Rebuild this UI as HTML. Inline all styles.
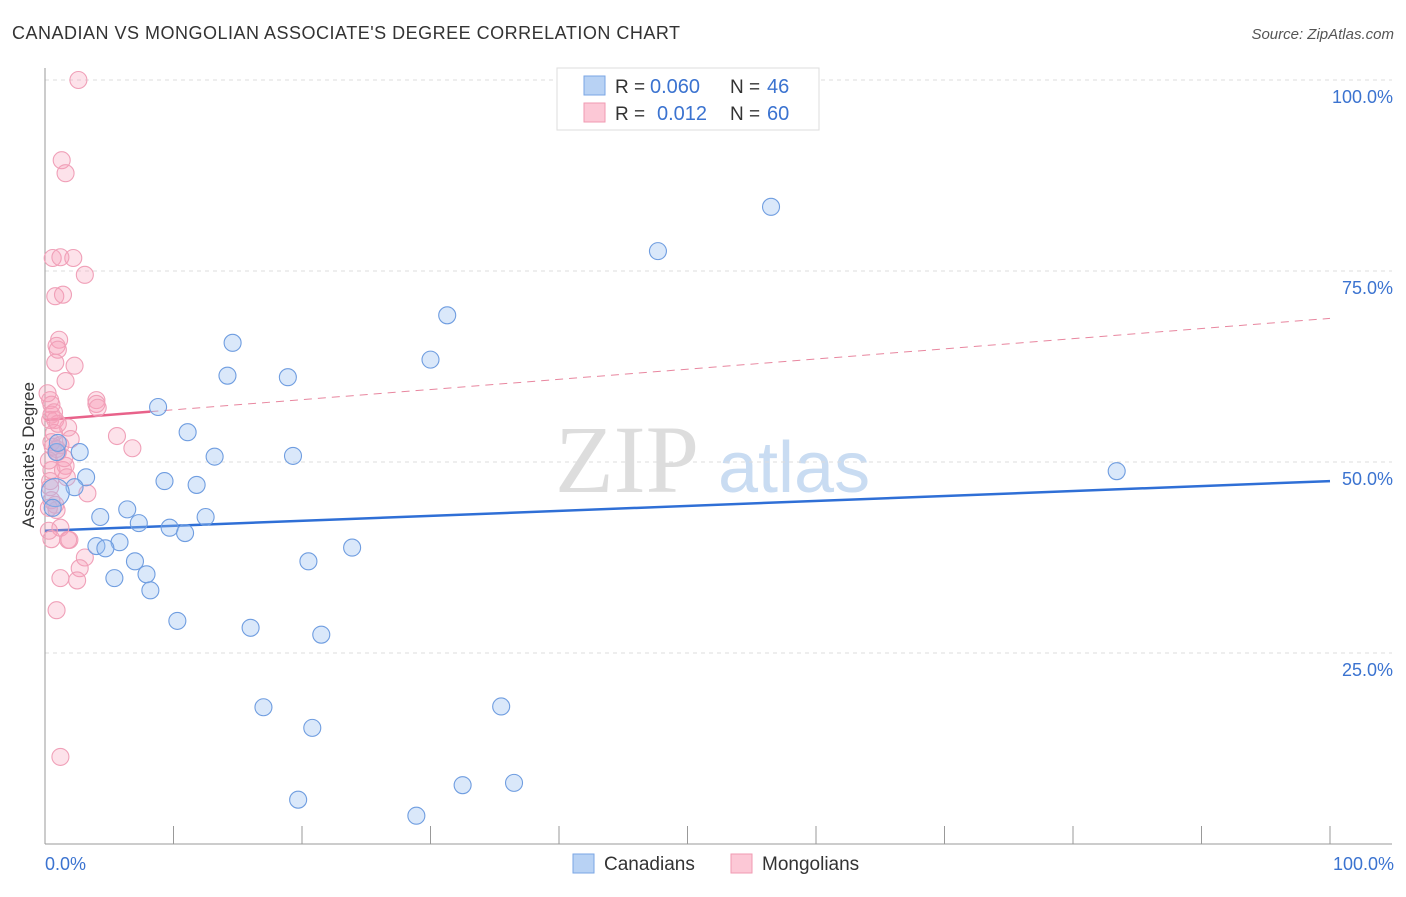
<!DOCTYPE html>
<html><head><meta charset="utf-8"><style>
body{margin:0;background:#fff;font-family:"Liberation Sans",sans-serif}
</style></head><body>
<svg width="1406" height="892" xmlns="http://www.w3.org/2000/svg" font-family="Liberation Sans, sans-serif">
<text x="12" y="39" font-size="18" fill="#333" textLength="668">CANADIAN VS MONGOLIAN ASSOCIATE'S DEGREE CORRELATION CHART</text>
<text x="1394" y="39" font-size="15" fill="#555" text-anchor="end" font-style="italic">Source: ZipAtlas.com</text>
<text x="555" y="492" font-size="96" fill="#ddd" font-family="Liberation Serif, serif">ZIP</text>
<text x="718" y="492" font-size="72" fill="#c9dcf2">atlas</text>
<g id="grid"></g>
<g id="axes"></g>
<text transform="translate(34,455) rotate(-90)" font-size="17" fill="#333" text-anchor="middle">Associate's Degree</text>
<text x="45" y="870" font-size="18" fill="#3b73d0">0.0%</text>
<text x="1394" y="870" font-size="18" fill="#3b73d0" text-anchor="end">100.0%</text>
<g id="trend"></g>
<g id="pts"></g>
<g>
<rect x="557" y="68" width="262" height="62" fill="#fff" stroke="#ddd"/>
<rect x="584" y="76" width="21" height="19" fill="#b8d2f4" stroke="#7aa6e4"/>
<rect x="584" y="103" width="21" height="19" fill="#fcc8d6" stroke="#f09ab2"/>
<text x="615" y="93" font-size="19" fill="#333">R =</text>
<text x="650" y="93" font-size="20" fill="#3b73d0">0.060</text>
<text x="730" y="93" font-size="19" fill="#333">N =</text>
<text x="767" y="93" font-size="20" fill="#3b73d0">46</text>
<text x="615" y="120" font-size="19" fill="#333">R =</text>
<text x="657" y="120" font-size="20" fill="#3b73d0">0.012</text>
<text x="730" y="120" font-size="19" fill="#333">N =</text>
<text x="767" y="120" font-size="20" fill="#3b73d0">60</text>
</g>
<g>
<rect x="573" y="854" width="21" height="19" fill="#b8d2f4" stroke="#7aa6e4"/>
<text x="604" y="870" font-size="19" fill="#333">Canadians</text>
<rect x="731" y="854" width="21" height="19" fill="#fcc8d6" stroke="#f09ab2"/>
<text x="762" y="870" font-size="19" fill="#333">Mongolians</text>
</g>
</svg>
<script>
const yTicks=[25,50,75,100];
const yTickLabels=["25.0%","50.0%","75.0%","100.0%"];
const xTicks=[10,20,30,40,50,60,70,80,90,100];
const blueX=[56.5,47.7,31.3,14.6,30.0,14.2,18.9,8.8,11.1,13.2,19.3,2.7,83.4,3.2,9.3,11.8,2.3,4.3,6.4,7.3,12.5,9.7,10.9,4.0,5.8,4.7,23.9,20.5,7.0,5.4,7.9,8.2,10.3,16.0,21.5,17.0,35.5,20.8,32.5,36.5,19.7,28.9,0.9,0.8,0.6,1.0];
const blueY=[83.4,77.6,69.2,65.6,63.4,61.3,61.1,57.2,53.9,50.7,50.8,51.3,48.8,48.0,47.5,47.0,46.7,42.8,43.8,42.0,42.8,41.4,40.7,39.0,39.5,38.7,38.8,37.0,37.0,34.8,35.3,33.2,29.2,28.3,27.4,17.9,18.0,15.2,7.7,8.0,5.8,3.7,51.3,46.0,44.0,52.5];
const pinkX=[2.6,1.3,1.6,0.6,2.2,1.2,3.1,0.8,1.4,1.1,0.9,1.0,0.8,1.6,2.3,4.0,4.0,4.1,0.4,0.5,0.5,0.4,0.8,1.8,0.5,1.2,1.0,0.9,1.6,0.5,1.4,5.6,6.8,0.4,0.5,0.8,0.9,1.2,1.8,1.9,3.3,0.5,3.1,2.7,2.5,1.2,0.9,1.2,0.3,0.7,0.2,1.0,1.7,0.3,0.6,0.4,1.5,0.7,2.0,0.3];
const pinkY=[100.0,89.5,87.8,76.7,76.7,76.8,74.5,71.7,71.9,66.0,65.2,64.7,63.0,60.6,62.6,58.1,57.6,57.1,58.1,57.5,56.2,55.5,55.5,54.5,52.6,52.2,51.3,51.7,49.5,48.95,48.95,53.4,51.8,46.7,45.0,44.4,43.7,41.4,39.8,39.8,45.9,39.9,37.5,36.1,34.5,34.8,30.6,11.4,50.2,53.8,59.0,55.0,48.0,44.0,52.0,47.5,50.5,56.5,53.0,41.0];
const blueTrend=[41.0,47.5];
const pinkTrend=[55.5,68.8];
const X=v=>45+v*12.85, Y=v=>844-v*7.64;
const NS="http://www.w3.org/2000/svg";
function mk(t,a,p){const e=document.createElementNS(NS,t);for(const k in a)e.setAttribute(k,a[k]);p.appendChild(e);return e;}
const grid=document.getElementById('grid'),axes=document.getElementById('axes');
yTicks.forEach((t,i)=>{
 const l=mk('line',{x1:45,x2:1392,y1:Y(t),y2:Y(t),stroke:'#ddd','stroke-dasharray':'4,4'},grid);
 
 
 const tx=mk('text',{x:1393,y:Y(t)+23,'font-size':18,fill:'#3b73d0','text-anchor':'end'},grid);
 tx.textContent=yTickLabels[i];
 
 
});
let a=mk('line',{x1:45,x2:45,y1:68,y2:844,stroke:'#999'},axes);


a=mk('line',{x1:45,x2:1392,y1:844,y2:844,stroke:'#999'},axes);


xTicks.forEach(t=>{const l=mk('line',{x1:X(t),x2:X(t),y1:826,y2:844,stroke:'#999'},axes);
 
 });
const tr=document.getElementById('trend');
let l=mk('line',{x1:X(0),y1:Y(blueTrend[0]),x2:X(100),y2:Y(blueTrend[1]),stroke:'#2f6fd6','stroke-width':2.5},tr);


const pv=x=>pinkTrend[0]+(pinkTrend[1]-pinkTrend[0])*x/100;
l=mk('line',{x1:X(0),y1:Y(pv(0)),x2:X(8.2),y2:Y(pv(8.2)),stroke:'#e8628a','stroke-width':2.5},tr);


l=mk('line',{x1:X(8.2),y1:Y(pv(8.2)),x2:X(100),y2:Y(pv(100)),stroke:'#e8869f','stroke-width':1,'stroke-dasharray':'8,6'},tr);


const pts=document.getElementById('pts');
pinkX.forEach((x,i)=>{const c=mk('circle',{cx:X(x),cy:Y(pinkY[i]),r:8.5,fill:'rgba(248,160,186,0.3)',stroke:'#f0a0b8','stroke-width':1.1},pts);
 
 });
blueX.forEach((x,i)=>{const c=mk('circle',{cx:X(x),cy:Y(blueY[i]),r:i==43?14:8.5,fill:'rgba(150,188,240,0.35)',stroke:'#6f9de0','stroke-width':1.1},pts);
 
 });
</script>
</body></html>
